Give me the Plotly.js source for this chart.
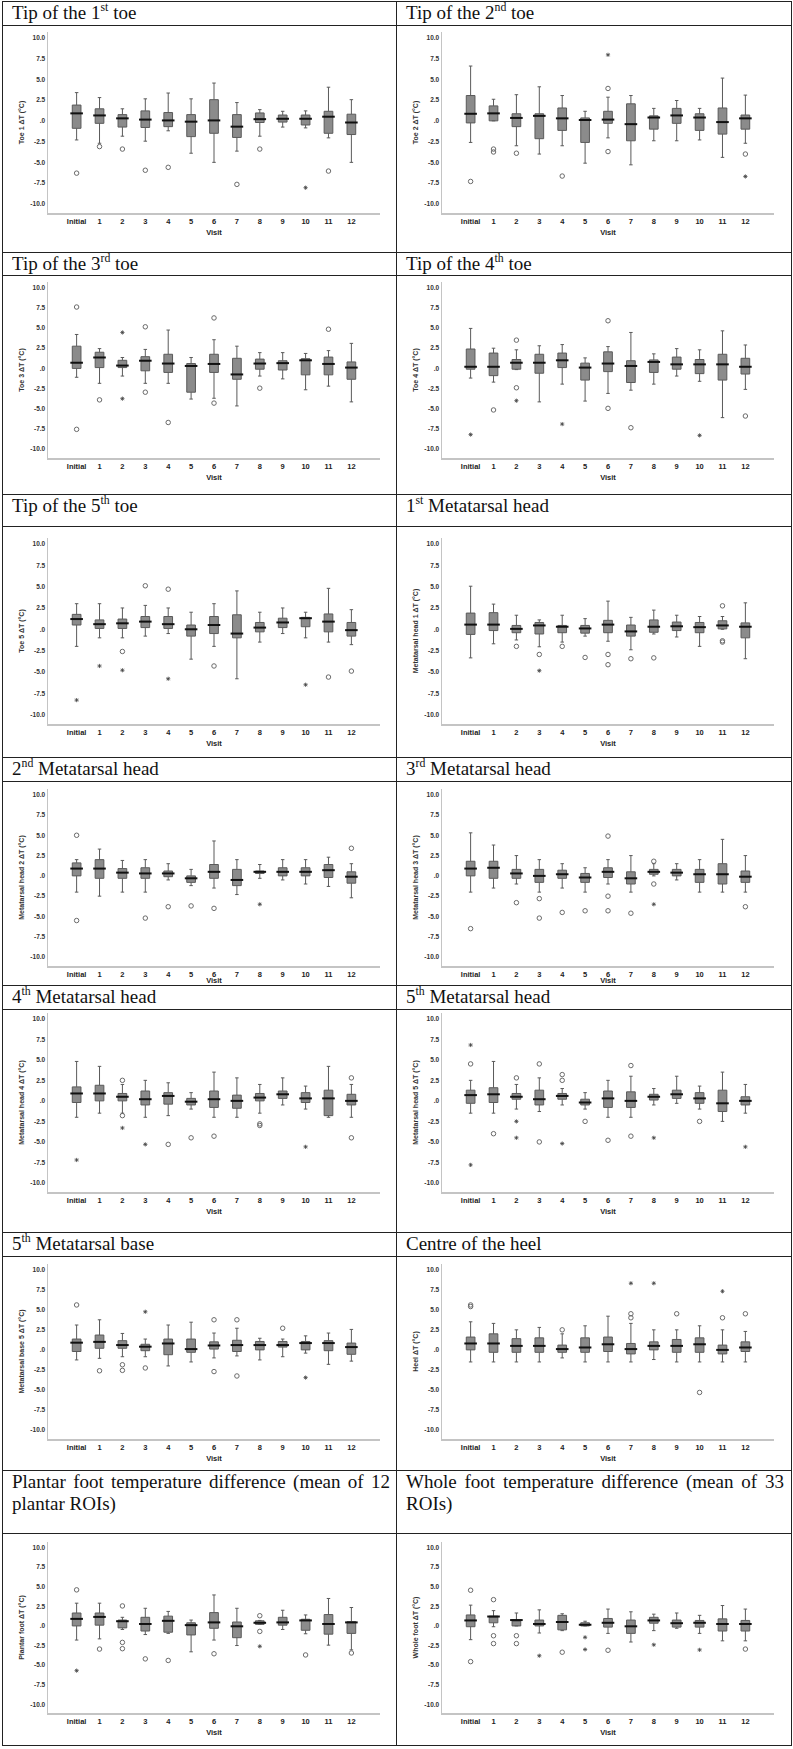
<!DOCTYPE html>
<html>
<head>
<meta charset="utf-8">
<script src="https://cdn.plot.ly/plotly-3.0.1.min.js"></script>
<style>
body { margin: 0; background: #fff; }
#page { position: relative; width: 793px; height: 1749px; overflow: hidden; }
.hline { position: absolute; height: 1px; background: #222; }
.vline { position: absolute; width: 1px; background: #222; }
.ttl { position: absolute; box-sizing: border-box; padding: 0 6px 0 10px; font-family: "Liberation Serif", "Times New Roman", serif; font-size: 19px; line-height: 22px; color: #111; text-align: justify; }
.ttl sup { font-size: 62%; line-height: 0; vertical-align: 0.7em; }
.chart { position: absolute; }
</style>
</head>
<body>
<div id="page"></div>
<script>
const visits = ["Initial", "1", "2", "3", "4", "5", "6", "7", "8", "9", "10", "11", "12"];
const yTickVals = [10, 7.5, 5, 2.5, 0, -2.5, -5, -7.5, -10];
const yTickText = ["10.0", "7.5", "5.0", "2.5", ".0", "-2.5", "-5.0", "-7.5", "-10.0"];

// each visit: [lower whisker, q1, median, q3, upper whisker]
// outliers (circles) / extremes (asterisks): [visit index, value]
const toe1 = [[-2.3,-0.9,0.9,1.9,3.4],[-2.7,-0.3,0.65,1.45,2.8],[-1.85,-0.75,0.3,0.75,1.45],[-2.45,-0.8,0.15,1.2,2.65],[-1.2,-0.7,0.05,1.0,3.35],[-3.9,-1.9,-0.1,0.75,2.65],[-5.0,-1.5,0.05,2.55,4.55],[-3.65,-2.0,-0.7,0.75,2.2],[-1.85,-0.2,0.2,0.95,1.35],[-0.75,-0.15,0.25,0.7,1.15],[-0.85,-0.5,0.25,0.7,1.2],[-2.05,-1.5,0.5,1.15,4.05],[-5.0,-1.65,-0.2,0.8,2.55]];
const toe1Out = [[0,-6.3],[1,-3.1],[2,-3.4],[3,-5.95],[4,-5.6],[7,-7.65],[8,-3.4],[11,-6.05]];
const toe1Ext = [[10,-8.05]];

const toe2 = [[-2.6,-0.25,0.85,3.05,6.6],[0.0,0.0,0.9,1.8,2.6],[-3.0,-0.7,0.35,0.85,3.15],[-4.0,-2.15,0.6,0.85,4.1],[-3.0,-1.15,0.3,1.55,3.05],[-5.1,-2.6,0.1,0.35,1.15],[-2.05,-0.3,0.15,1.15,2.85],[-5.3,-2.4,-0.4,2.05,3.05],[-2.4,-1.0,0.4,0.6,1.5],[-2.4,-0.3,0.65,1.5,2.45],[-2.3,-1.15,0.4,0.85,1.5],[-4.4,-1.6,-0.15,1.55,5.15],[-2.7,-1.0,0.3,0.7,3.1]];
const toe2Out = [[0,-7.3],[1,-3.4],[1,-3.75],[2,-3.9],[4,-6.65],[6,3.9],[6,-3.7],[12,-4.0]];
const toe2Ext = [[6,7.95],[12,-6.7]];

const toe3 = [[-1.1,0.0,0.7,2.75,4.2],[-1.85,0.1,1.35,2.0,2.45],[-0.95,0.1,0.35,1.0,1.35],[-1.85,-0.3,0.95,1.45,2.35],[-1.85,-0.5,0.6,1.75,4.75],[-3.8,-2.95,0.3,0.6,1.35],[-3.7,-0.5,0.55,1.75,3.55],[-4.65,-1.35,-0.75,1.25,2.75],[-0.95,-0.1,0.6,1.15,1.95],[-1.3,-0.2,0.65,0.95,1.95],[-2.65,-0.8,1.0,1.2,1.85],[-2.2,-0.8,0.55,1.4,2.2],[-4.15,-1.35,0.1,0.8,3.1]];
const toe3Out = [[0,7.6],[0,-7.55],[1,-3.9],[3,5.15],[3,-2.95],[4,-6.7],[6,6.25],[6,-4.3],[8,-2.45],[11,4.85]];
const toe3Ext = [[2,4.45],[2,-3.75]];

const toe4 = [[-1.2,-0.1,0.2,2.4,4.95],[-1.7,-0.9,0.2,1.9,2.5],[-0.15,-0.1,0.7,1.1,2.3],[-4.15,-0.6,0.7,1.75,2.8],[-1.95,0.1,1.0,1.9,2.95],[-4.05,-1.45,0.1,0.65,1.3],[-3.1,-0.4,0.6,2.05,2.7],[-2.7,-1.75,0.3,0.95,4.45],[-1.95,-0.5,0.8,1.05,1.8],[-0.95,-0.1,0.5,1.4,2.45],[-1.6,-0.65,0.5,1.1,2.3],[-6.1,-1.45,0.5,1.75,4.65],[-2.6,-0.7,0.2,1.25,2.9]];
const toe4Out = [[1,-5.15],[2,3.5],[2,-2.4],[6,5.9],[6,-4.95],[7,-7.35],[12,-5.9]];
const toe4Ext = [[0,-8.2],[2,-4.0],[4,-6.9],[10,-8.3]];

const toe5 = [[-2.0,0.5,1.2,1.75,3.0],[-1.0,0.1,0.6,1.1,3.0],[-1.0,0.1,0.7,1.2,2.5],[-0.8,0.2,0.9,1.5,2.8],[-0.5,0.1,0.6,1.5,2.5],[-3.5,-0.8,0.0,0.5,2.0],[-2.0,-0.5,0.5,1.5,3.0],[-5.8,-1.0,-0.5,1.7,4.5],[-1.5,-0.3,0.2,0.8,2.0],[-0.5,0.2,0.8,1.3,2.5],[-1.0,0.3,1.3,1.4,2.0],[-1.5,-0.3,0.9,1.8,4.8],[-1.8,-0.8,-0.1,0.8,2.3]];
const toe5Out = [[2,-2.6],[3,5.1],[4,4.7],[6,-4.3],[11,-5.6],[12,-4.9]];
const toe5Ext = [[0,-8.3],[1,-4.3],[2,-4.8],[4,-5.8],[10,-6.5]];

const mh1 = [[-3.35,-0.6,0.55,1.9,5.05],[-1.7,-0.15,0.55,1.95,2.95],[-1.25,-0.4,0.05,0.45,1.65],[-2.05,-0.55,0.45,0.8,1.1],[-1.5,-0.4,0.3,0.45,1.65],[-0.8,-0.45,0.1,0.45,1.25],[-1.4,-0.4,0.55,1.05,3.3],[-2.4,-0.8,-0.25,0.5,1.4],[-0.55,-0.35,0.3,1.1,2.25],[-0.9,-0.15,0.35,0.85,1.65],[-2.0,-0.4,0.25,0.8,1.5],[0.0,0.05,0.45,1.0,1.5],[-3.45,-1.0,0.3,0.75,3.1]];
const mh1Out = [[2,-2.0],[3,-2.95],[4,-2.0],[5,-3.3],[6,-2.95],[6,-4.15],[7,-3.45],[8,-3.35],[11,2.75],[11,-1.35],[11,-1.5]];
const mh1Ext = [[3,-4.85]];

const mh2 = [[-2.0,0.0,0.9,1.6,2.0],[-2.5,-0.3,0.9,2.0,3.3],[-2.0,-0.3,0.4,0.9,1.9],[-2.0,-0.3,0.3,1.0,2.0],[-0.5,-0.1,0.3,0.6,1.5],[-1.2,-0.8,-0.3,0.0,0.8],[-1.5,-0.3,0.5,1.4,4.3],[-2.3,-1.2,-0.5,0.8,2.0],[-0.3,0.3,0.5,0.6,1.4],[-0.5,0.0,0.5,1.0,2.0],[-1.0,0.0,0.5,1.0,2.0],[-1.3,-0.2,0.7,1.4,2.3],[-2.7,-0.9,-0.1,0.5,1.5]];
const mh2Out = [[0,5.0],[0,-5.5],[3,-5.2],[4,-3.8],[5,-3.7],[6,-4.0],[12,3.4]];
const mh2Ext = [[8,-3.5]];

const mh3 = [[-2.0,0.0,0.9,1.8,5.3],[-1.5,-0.3,1.0,1.8,3.8],[-1.0,-0.3,0.3,0.8,2.5],[-2.0,-0.8,0.0,0.8,2.0],[-1.5,-0.3,0.2,0.7,1.5],[-2.0,-0.8,-0.2,0.3,1.0],[-1.0,-0.2,0.5,1.0,2.0],[-2.0,-1.0,-0.3,0.5,2.5],[0.0,0.2,0.5,0.8,1.5],[-0.5,0.0,0.4,0.8,1.5],[-2.0,-0.8,0.2,0.8,2.0],[-2.0,-1.0,0.2,1.5,4.5],[-2.0,-0.8,-0.1,0.6,2.5]];
const mh3Out = [[0,-6.5],[2,-3.3],[3,-2.8],[3,-5.2],[4,-4.5],[5,-4.3],[6,4.9],[6,-2.5],[6,-4.3],[7,-4.6],[8,1.8],[8,-1.0],[12,-3.8]];
const mh3Ext = [[8,-3.5]];

const mh4 = [[-2.0,-0.2,0.9,1.7,4.8],[-1.5,0.0,0.9,1.9,4.2],[-1.5,0.0,0.5,0.9,2.0],[-2.0,-0.5,0.2,1.2,2.5],[-1.8,-0.4,0.6,1.0,2.2],[-1.0,-0.5,-0.1,0.3,1.0],[-2.0,-0.8,0.2,1.2,3.5],[-2.0,-0.9,0.0,0.7,2.8],[-1.5,0.0,0.4,0.9,2.0],[-0.5,0.3,0.8,1.2,2.8],[-1.0,-0.2,0.3,1.0,1.8],[-2.0,-1.8,0.3,1.3,4.2],[-2.0,-0.5,0.0,0.8,2.0]];
const mh4Out = [[2,2.5],[2,-1.8],[4,-5.3],[5,-4.5],[6,-4.3],[8,-2.8],[8,-3.0],[12,2.8],[12,-4.5]];
const mh4Ext = [[0,-7.2],[2,-3.3],[3,-5.3],[10,-5.6]];

const mh5 = [[-1.5,-0.3,0.7,1.3,2.5],[-1.5,-0.2,0.8,1.6,4.8],[-1.0,0.2,0.5,0.9,2.0],[-1.3,-0.5,0.2,1.3,2.8],[-0.5,0.2,0.6,0.9,1.5],[-1.0,-0.5,-0.2,0.2,1.0],[-2.0,-0.8,0.3,1.2,2.5],[-2.0,-0.8,0.0,1.1,3.0],[-0.5,0.1,0.5,0.8,1.5],[-0.3,0.3,0.8,1.3,3.0],[-1.0,-0.3,0.3,1.0,1.8],[-2.5,-1.3,-0.3,1.3,3.5],[-1.5,-0.5,0.0,0.5,2.0]];
const mh5Out = [[0,4.5],[1,-4.0],[2,2.8],[3,4.5],[3,-5.0],[4,3.2],[4,2.5],[5,-2.5],[6,-4.8],[7,4.3],[7,-4.3],[10,-2.5]];
const mh5Ext = [[0,6.8],[0,-7.8],[2,-2.5],[2,-4.5],[4,-5.2],[8,-4.5],[12,-5.6]];

const mb5 = [[-1.25,-0.2,0.9,1.35,3.1],[-1.05,0.2,1.0,1.85,3.75],[-0.85,0.2,0.6,1.15,2.05],[-0.85,-0.1,0.4,0.7,1.35],[-2.0,-0.6,0.8,1.35,3.1],[-1.5,-0.3,0.1,1.35,3.45],[-1.0,0.1,0.55,1.0,2.1],[-0.75,-0.2,0.6,1.2,2.7],[-1.25,0.0,0.6,1.05,1.45],[-0.85,0.35,0.6,1.05,1.35],[-0.4,0.0,0.85,1.05,1.75],[-1.8,-0.1,0.85,1.15,2.1],[-1.4,-0.55,0.35,0.85,2.55]];
const mb5Out = [[0,5.6],[1,-2.6],[2,-1.85],[2,-2.55],[3,-2.25],[6,3.75],[6,-2.7],[7,3.75],[7,-3.25],[9,2.7]];
const mb5Ext = [[3,4.75],[10,-3.45]];

const heel = [[-1.5,0.0,0.8,1.6,3.5],[-1.5,-0.3,0.8,2.0,3.3],[-1.5,-0.3,0.5,1.4,2.5],[-1.5,-0.3,0.5,1.5,2.8],[-1.0,-0.3,0.1,0.6,2.0],[-1.5,-0.3,0.3,1.5,3.0],[-1.5,-0.2,0.7,1.6,4.2],[-1.5,-0.5,0.1,0.8,3.3],[-1.2,0.0,0.5,1.0,2.5],[-1.5,-0.3,0.5,1.3,2.5],[-1.5,-0.3,0.7,1.5,3.0],[-1.5,-0.5,0.0,0.6,2.5],[-1.5,-0.2,0.3,1.0,2.3]];
const heelOut = [[0,5.6],[0,5.4],[4,2.5],[7,4.0],[7,4.5],[9,4.5],[10,-5.3],[11,4.0],[12,4.5]];
const heelExt = [[7,8.3],[8,8.3],[11,7.3]];

const plantar = [[-1.8,0.0,0.9,1.65,2.9],[-1.65,0.1,1.15,1.65,2.9],[-0.45,-0.25,0.6,0.75,1.1],[-1.1,-0.65,0.25,1.1,2.25],[-0.95,-0.8,0.65,1.25,1.85],[-3.3,-1.15,0.1,0.4,0.75],[-1.8,-0.3,0.45,1.7,3.95],[-2.5,-1.5,-0.05,0.5,2.25],[0.2,0.2,0.4,0.65,0.7],[-0.45,0.1,0.45,1.1,2.0],[-1.0,-0.55,0.7,0.85,1.4],[-2.45,-1.05,0.25,1.45,3.5],[-3.05,-0.95,0.45,0.55,2.35]];
const plantarOut = [[0,4.6],[1,-2.95],[2,2.55],[2,-2.1],[2,-2.9],[3,-4.2],[4,-4.4],[6,-3.55],[8,1.3],[8,-0.7],[10,-3.7],[12,-3.45]];
const plantarExt = [[0,-5.7],[8,-2.6]];

const whole = [[-1.75,-0.1,0.7,1.4,2.65],[-0.1,0.4,1.2,1.25,1.95],[0.0,0.0,0.75,0.75,1.65],[-0.9,0.0,0.25,0.75,2.05],[-0.6,-0.5,0.5,1.35,1.55],[0.0,0.0,0.15,0.4,0.6],[-0.95,-0.15,0.4,0.95,2.15],[-2.05,-0.95,-0.05,0.75,1.8],[-0.6,0.35,0.7,1.1,1.5],[-0.3,-0.15,0.35,0.75,1.65],[-0.95,-0.15,0.4,0.7,1.35],[-1.9,-0.65,0.25,0.9,2.6],[-1.9,-0.65,0.25,0.7,2.15]];
const wholeOut = [[0,4.55],[0,-4.55],[1,3.35],[1,-1.25],[1,-2.25],[2,-1.25],[2,-2.25],[4,-3.35],[6,-3.1],[12,-2.95]];
const wholeExt = [[3,-3.8],[5,-1.45],[5,-3.0],[8,-2.4],[10,-3.05]];

const panelTitles = [
  "Tip of the 1<sup>st</sup> toe", "Tip of the 2<sup>nd</sup> toe",
  "Tip of the 3<sup>rd</sup> toe", "Tip of the 4<sup>th</sup> toe",
  "Tip of the 5<sup>th</sup> toe", "1<sup>st</sup> Metatarsal head",
  "2<sup>nd</sup> Metatarsal head", "3<sup>rd</sup> Metatarsal head",
  "4<sup>th</sup> Metatarsal head", "5<sup>th</sup> Metatarsal head",
  "5<sup>th</sup> Metatarsal base", "Centre of the heel",
  "Plantar foot temperature difference (mean of 12 plantar ROIs)",
  "Whole foot temperature difference (mean of 33 ROIs)"
];
const yLabels = [
  "Toe 1 ΔT (°C)", "Toe 2 ΔT (°C)", "Toe 3 ΔT (°C)", "Toe 4 ΔT (°C)", "Toe 5 ΔT (°C)",
  "Metatarsal head 1 ΔT (°C)", "Metatarsal head 2 ΔT (°C)", "Metatarsal head 3 ΔT (°C)",
  "Metatarsal head 4 ΔT (°C)", "Metatarsal head 5 ΔT (°C)", "Metatarsal base 5 ΔT (°C)",
  "Heel ΔT (°C)", "Plantar foot ΔT (°C)", "Whole foot ΔT (°C)"
];
const panelStats = [toe1, toe2, toe3, toe4, toe5, mh1, mh2, mh3, mh4, mh5, mb5, heel, plantar, whole];
const panelOut = [toe1Out, toe2Out, toe3Out, toe4Out, toe5Out, mh1Out, mh2Out, mh3Out, mh4Out, mh5Out, mb5Out, heelOut, plantarOut, wholeOut];
const panelExt = [toe1Ext, toe2Ext, toe3Ext, toe4Ext, toe5Ext, mh1Ext, mh2Ext, mh3Ext, mh4Ext, mh5Ext, mb5Ext, heelExt, plantarExt, wholeExt];

// table geometry (px): title top, title bottom, cell bottom, pixel of +10 and -10
const rows = [
  {tTop: 1, tBot: 25, cBot: 252, y10: 38, yM10: 204},
  {tTop: 252, tBot: 275, cBot: 494, y10: 288, yM10: 449},
  {tTop: 494, tBot: 526, cBot: 757, y10: 544, yM10: 715},
  {tTop: 757, tBot: 781, cBot: 985, y10: 795, yM10: 957},
  {tTop: 985, tBot: 1009, cBot: 1232, y10: 1019, yM10: 1183},
  {tTop: 1232, tBot: 1256, cBot: 1470, y10: 1270, yM10: 1430},
  {tTop: 1470, tBot: 1533, cBot: 1745, y10: 1547, yM10: 1704}
];
const colX = [2, 396];
const colW = 394;

const page = document.getElementById('page');
function addDiv(cls, css, html) {
  const d = document.createElement('div');
  d.className = cls;
  d.style.cssText = css;
  if (html) d.innerHTML = html;
  page.appendChild(d);
  return d;
}

const axFont = {family: "Liberation Sans, Arial, sans-serif", size: 7, color: "#333", weight: "bold"};

function drawPanel(i) {
  const row = rows[Math.floor(i / 2)];
  const left = colX[i % 2];
  const stats = panelStats[i];
  addDiv('ttl', `left:${left}px;top:${row.tTop + 1}px;width:${colW}px;`, panelTitles[i]);

  const h = row.cBot - row.tBot;
  const s = (row.yM10 - row.y10) / 20;
  const plotTop = row.y10 - 0.7 * s;
  const plotBot = row.yM10 + 1.1 * s;
  const div = addDiv('chart', `left:${left}px;top:${row.tBot}px;width:${colW}px;height:${h}px;`);

  const outs = panelOut[i], exts = panelExt[i];
  const traces = [
    {
      type: "box", x: visits,
      lowerfence: stats.map(r => r[0]), q1: stats.map(r => r[1]), median: stats.map(r => r[2]),
      q3: stats.map(r => r[3]), upperfence: stats.map(r => r[4]),
      boxpoints: false, width: 0.38, whiskerwidth: 0.4,
      fillcolor: "#8b8b8b", line: {color: "#5a5a5a", width: 1}
    },
    {
      type: "scatter", mode: "markers", x: visits, y: stats.map(r => r[2]),
      marker: {symbol: "line-ew-open", size: 9, color: "#111", line: {color: "#111", width: 2}}
    },
    {
      type: "scatter", mode: "markers", x: outs.map(o => visits[o[0]]), y: outs.map(o => o[1]),
      marker: {symbol: "circle-open", size: 4.5, color: "#6a6a6a", line: {color: "#6a6a6a", width: 1}}
    },
    {
      type: "scatter", mode: "markers", x: exts.map(o => visits[o[0]]), y: exts.map(o => o[1]),
      marker: {symbol: "asterisk-open", size: 3.5, color: "#444", line: {color: "#444", width: 0.8}}
    }
  ];
  const layout = {
    width: colW, height: h, showlegend: false,
    margin: {l: 46, r: 16, t: plotTop - row.tBot, b: row.cBot - plotBot, pad: 0},
    paper_bgcolor: "rgba(0,0,0,0)", plot_bgcolor: "rgba(0,0,0,0)",
    xaxis: {
      type: "category", categoryarray: visits, range: [-1.25, 13.25],
      showline: true, linecolor: "#c4c4c4", linewidth: 1.5, showgrid: false, zeroline: false, ticks: "",
      tickfont: {family: axFont.family, size: 7.5, color: "#222", weight: "bold"},
      title: {text: "Visit", font: {family: axFont.family, size: 7.5, color: "#222", weight: "bold"}, standoff: 5}
    },
    yaxis: {
      range: [-11.1, 10.7], tickvals: yTickVals, ticktext: yTickText,
      showline: true, linecolor: "#c4c4c4", linewidth: 1.5, showgrid: false, zeroline: false, ticks: "",
      tickfont: {family: axFont.family, size: 6.5, color: "#333", weight: "bold"},
      title: {text: yLabels[i], font: axFont, standoff: 5}
    }
  };
  Plotly.newPlot(div, traces, layout, {staticPlot: true, displayModeBar: false});
}

for (let i = 0; i < 14; i++) drawPanel(i);

// table rules
rows.forEach(r => {
  addDiv('hline', `left:2px;top:${r.tTop}px;width:790px;`);
  addDiv('hline', `left:2px;top:${r.tBot}px;width:790px;`);
});
addDiv('hline', `left:2px;top:${rows[6].cBot}px;width:790px;`);
[2, 396, 791].forEach(x => addDiv('vline', `left:${x}px;top:1px;height:${rows[6].cBot}px;`));
</script>
</body>
</html>
